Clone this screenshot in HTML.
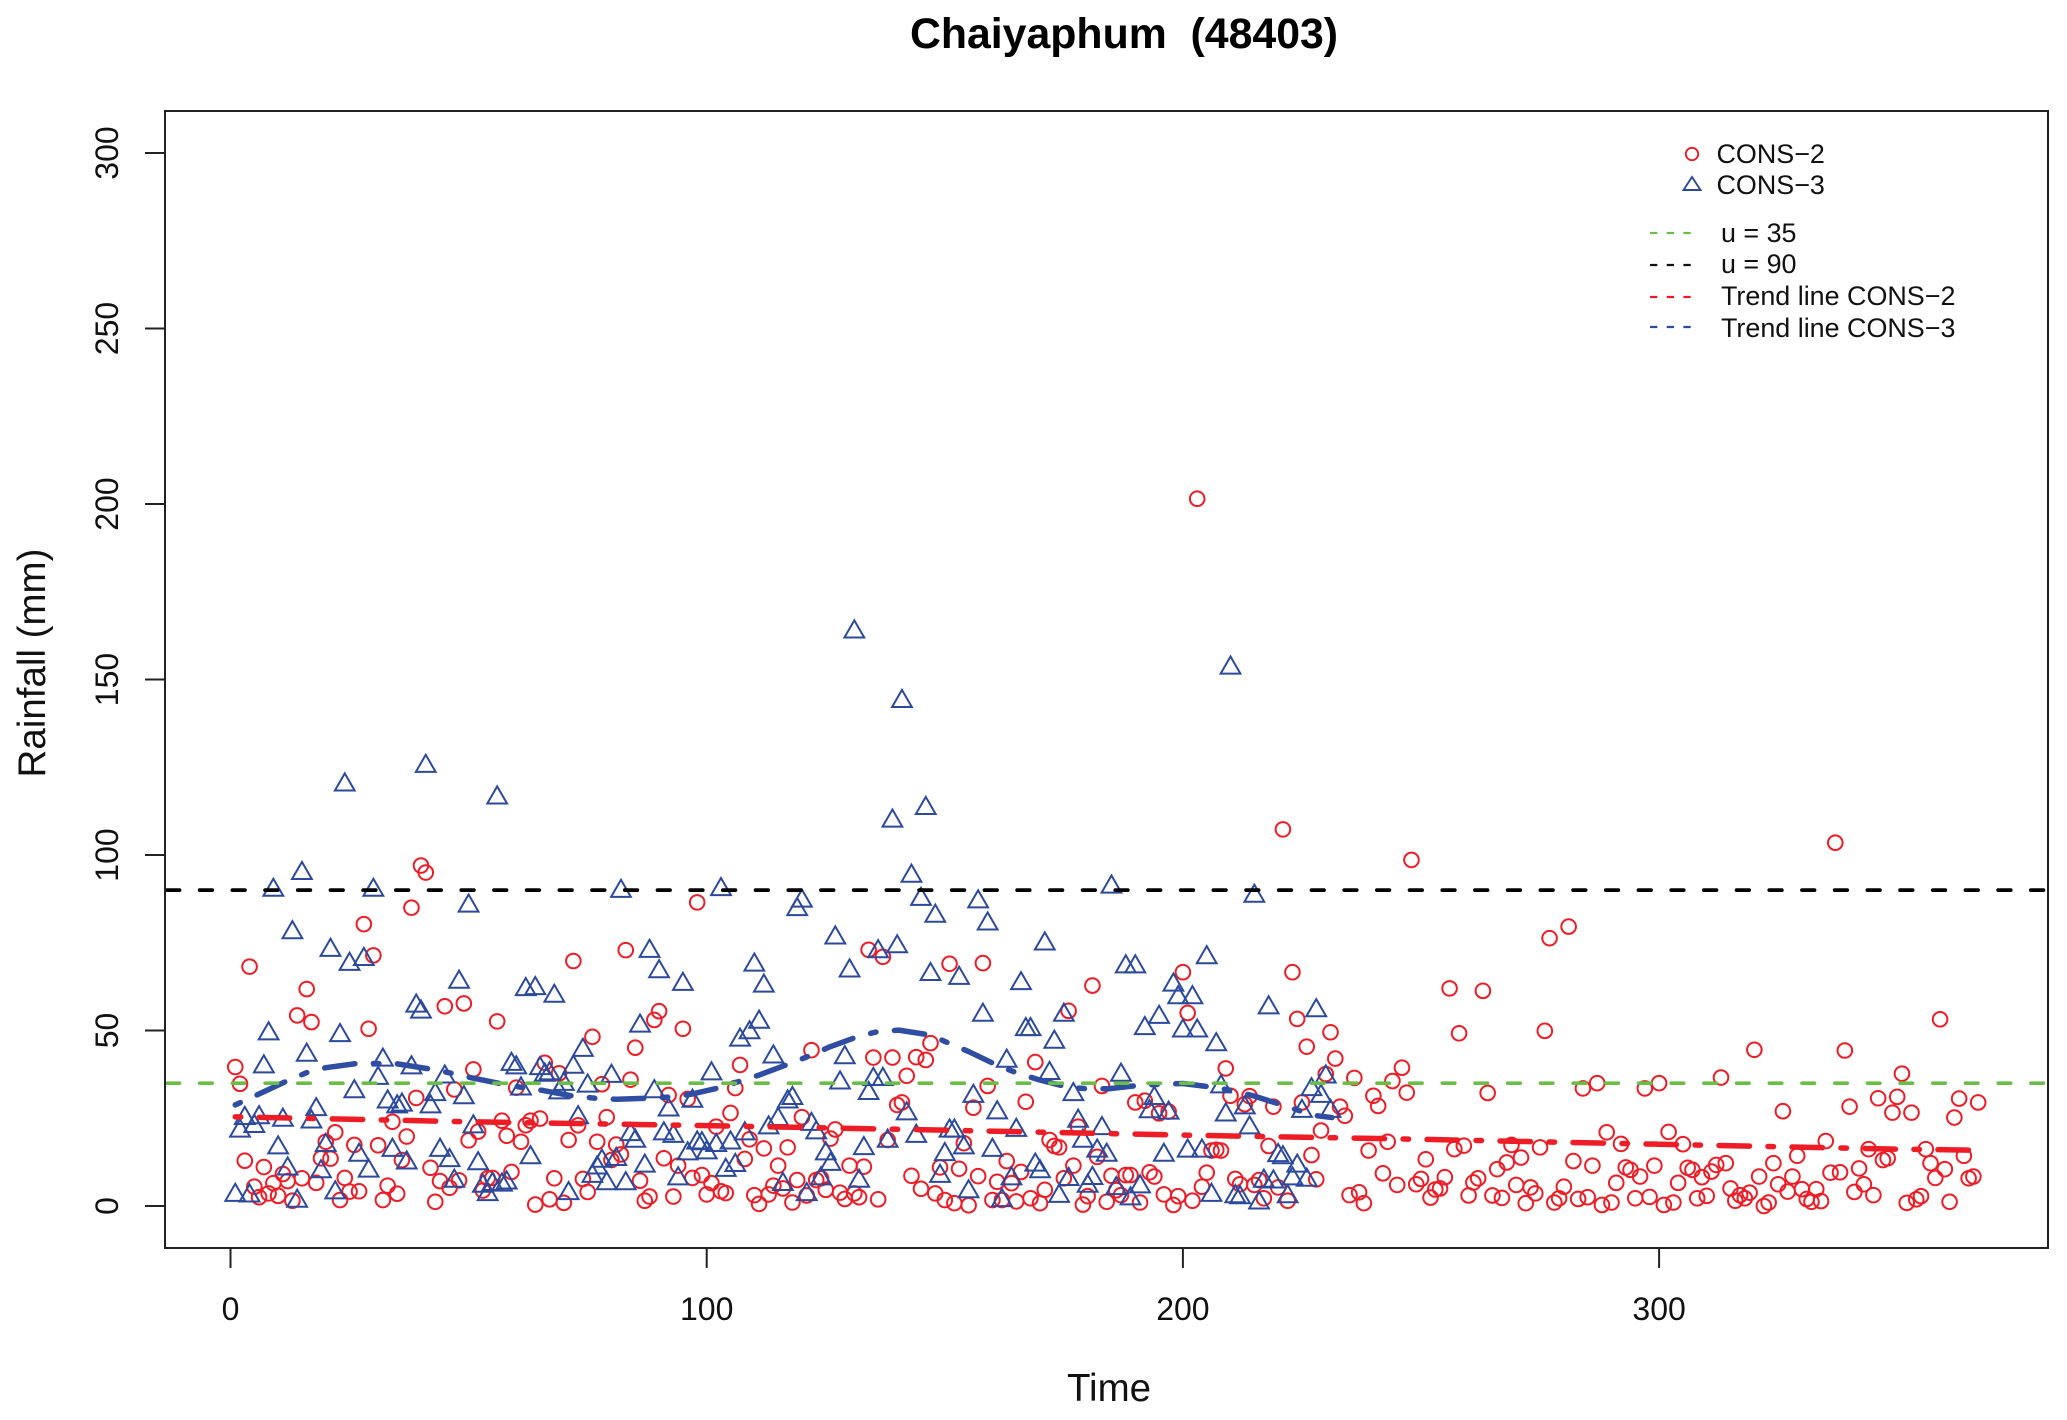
<!DOCTYPE html>
<html lang="en">
<head>
<meta charset="utf-8">
<title>Chaiyaphum (48403)</title>
<style>
html,body{margin:0;padding:0;background:#fff;}
svg{display:block;font-family:"Liberation Sans",Arial,sans-serif;}
</style>
</head>
<body>
<svg id="chart" xmlns="http://www.w3.org/2000/svg" width="2067" height="1420" viewBox="0 0 2067 1420">
  <rect x="0" y="0" width="2067" height="1420" fill="#fff"/>
  <text x="1124" y="48" font-size="42.8" font-weight="bold" text-anchor="middle" fill="#000" xml:space="preserve">Chaiyaphum  (48403)</text>
  <text x="1109" y="1401" font-size="38.5" text-anchor="middle" fill="#111">Time</text>
  <text transform="translate(45,663) rotate(-90)" font-size="38.5" text-anchor="middle" fill="#111">Rainfall (mm)</text>
  <g id="marks-circles"></g>
  <g id="marks-triangles"></g>
  <g id="trend-lines"></g>
  <g id="threshold-lines"></g>
  <g id="axes"></g>
  <g>
    <circle cx="1692" cy="154" r="6.2" fill="none" stroke="#ee1c25" stroke-width="1.9"/>
    <path d="M1692 177 L1700.5 190 L1683.5 190 Z" fill="none" stroke="#2b4a9e" stroke-width="1.9"/>
    <text x="1716.5" y="163" font-size="26.9" fill="#111">CONS−2</text>
    <text x="1716.5" y="194" font-size="26.9" fill="#111">CONS−3</text>
    <line x1="1650" y1="233" x2="1691" y2="233" stroke="#6abd45" stroke-width="2.2" stroke-dasharray="7.3 9.4"/>
    <line x1="1650" y1="265" x2="1691" y2="265" stroke="#111" stroke-width="2.2" stroke-dasharray="7.3 9.4"/>
    <line x1="1650" y1="297" x2="1691" y2="297" stroke="#ee1c25" stroke-width="2.2" stroke-dasharray="7.3 9.4"/>
    <line x1="1650" y1="327" x2="1691" y2="327" stroke="#2b4a9e" stroke-width="2.2" stroke-dasharray="7.3 9.4"/>
    <text x="1721" y="242" font-size="26.9" fill="#111">u = 35</text>
    <text x="1721" y="273" font-size="26.9" fill="#111">u = 90</text>
    <text x="1721" y="305" font-size="26.9" fill="#111">Trend line CONS−2</text>
    <text x="1721" y="337" font-size="26.9" fill="#111">Trend line CONS−3</text>
  </g>
</svg>
<script>
// Daily rainfall (mm), first value is day 1.
const cons2Values = [
39.6,34.8,12.9,68.2,5.5,2.5,11.1,3.6,6.5,2.9,9.1,7.1,1.5,54.3,7.9,61.8,52.4,6.6,13.6,18.3,
13.5,21,1.7,8,4.1,17.4,4.2,80.3,50.5,71.4,17.3,1.7,5.8,24,3.5,13.1,19.8,85,30.8,97,
95,10.9,1.2,7.1,56.9,5.2,33.2,7.3,57.7,18.7,38.9,21.2,4.4,7.9,8,52.6,24.3,20,9.7,33.7,
18.3,23,24.3,0.4,24.9,40.8,1.9,7.9,37.8,0.9,18.8,69.8,23,7.7,4,48.2,18.3,34.7,25.3,13.1,
17.5,14.7,72.9,36,45.1,7.2,1.5,2.7,53,55.5,13.6,31.6,2.7,11.5,50.5,30.5,8,86.5,8.8,3.3,
6.5,22.6,4.2,3.7,26.5,33.6,40.2,13.4,19,3.1,0.6,16.4,3.3,5.8,11.5,5,16.7,1,7.4,25.3,
3,44.4,7.4,7.9,4.6,19.2,21.8,3.8,2,11.5,3.6,2.5,11.2,73,42.3,1.9,71,18.8,42.3,28.8,
29.5,37.1,8.6,42.4,4.9,41.6,46.4,3.6,11,1.7,69,0.8,10.6,17.9,0.2,28,8.5,69.2,34.2,1.7,
6.9,1.7,12.8,6.5,1.3,9.7,29.7,2.2,41,0.8,4.6,18.8,17.1,16.7,7.9,55.6,11.5,22.6,0.4,2.8,
62.8,14,34.2,1.2,8.6,4.5,3.1,8.8,8.8,29.5,1,30,9.6,8.4,26.4,3.3,26.9,0.3,2.8,66.6,
55,1.5,201.5,5.5,9.5,15.8,16,15.8,39.2,31.4,7.7,6.2,29,31.3,6,7.4,2.2,17.1,28.3,5.3,
107.3,1.5,66.6,53.3,29.5,45.4,14.5,7.6,21.5,37.6,49.5,42,28.3,25.7,3.1,36.5,3.9,0.8,15.8,31.4,
28.5,9.3,18.3,35.6,6,39.4,32.3,98.6,6.2,7.7,13.3,2.4,4.7,5,8.2,62,16.2,49.2,17.2,3,
6.7,7.9,61.3,32.2,3,10.5,2.3,12.4,17.4,6,13.8,0.8,5.3,3.6,16.7,49.9,76.3,1,2.2,5.5,
79.6,12.8,2,33.5,2.5,11.5,35,0.3,21,1,6.6,17.7,11,10.3,2.2,8.4,33.5,2.6,11.5,35,
0.3,21.1,1,6.6,17.6,10.9,10.3,2.2,8.2,2.9,9.8,11.7,36.6,12.2,5,1.5,3.1,2.2,3.8,44.5,
8.4,0,1,12.2,6.2,27,4.1,8.4,14.3,4.8,2,1.2,4.8,1.4,18.5,9.5,103.5,9.6,44.3,28.3,
4,10.7,6.2,16.2,3.1,30.7,13.1,13.6,26.6,31.1,37.7,0.9,26.6,1.9,2.8,16.2,12.2,8,53.2,10.5,
1.2,25.2,30.6,14.3,7.9,8.4,29.5
];
const cons3Values = [
3.1,21.4,25,2.9,22.7,25.2,39.7,49.1,90,16.6,24.5,10.6,77.9,1.4,94.8,43,24,27.5,9.8,17.3,
72.9,3.8,48.6,120,68.9,32.6,14.5,70.3,10,90,36.4,41.6,29.7,15.9,28.3,28.8,12.3,39.4,57,55.3,
125.3,28.3,31.8,15.9,36.8,13,7.1,63.8,30.9,85.5,22.6,12.1,5.7,3.3,6.2,116.3,6,6.6,40.4,39.4,
33.4,61.7,13.8,62,39.2,37.3,37.7,59.8,32.3,34.7,3.6,39.6,25.2,44.4,34.2,8.5,10.9,12.8,6.4,37,
13.3,89.7,6.4,20.4,18.5,51.3,11.4,72.6,32.6,66.8,20.6,27.4,19.9,7.8,63.2,14.9,29.9,18,17.8,15.2,
37.7,17.3,90.2,10.2,18,11.6,47.3,20.6,49.4,68.7,52.4,62.7,22.3,42.5,24.7,6.2,29.7,30.7,84.5,86.9,
3.3,23.3,20.9,7.8,14.9,11.9,76.4,35.1,42.3,67,163.6,7.1,16.4,32.1,36.1,72.5,36.1,18.5,109.7,73.9,
143.8,26.3,94,19.9,87.4,113.3,66,82.6,8.5,14.7,21.4,21.4,64.9,16.6,4.1,31.3,86.7,54.4,80.4,15.9,
26.6,1.6,41.3,7.8,21.6,63.4,50.3,50.3,11.7,9.8,74.7,37.8,46.7,2.8,54.4,7.6,31.8,24.2,18.5,5.7,
7.9,15.7,22.1,14.5,90.9,5,37.3,68.2,2.1,68.2,5.5,50.6,26.9,30.7,53.8,14.5,26.5,63,59.4,49.9,
15.7,59.4,49.9,15.7,70.8,3.1,46,34,26,153.3,2.7,2.4,28,22.3,88.3,0.9,7.1,56.5,6.9,14.4,
13.8,2.7,7.8,11.4,27,7.4,33.2,55.7,31.3,36.8,27
];
const trend2Days = [1,50,100,150,200,250,300,350,367];
const trend2Values = [25.4,24,22.9,21.6,20.2,19,17.6,16.2,15.9];
const trend3Days = [1,5.5,11.5,16,20,26.5,30.7,35,42,46.5,50,57,61.5,65.7,72,76.6,81,87.8,93,96.5,103,107.7,111,117.5,122,125.6,132,136,140.3,147,151,155,161.3,165,169.4,176,180,184.4,191,196,200,206.5,211.4,215,221.5,225,227,231.3];
const trend3Values = [28.8,31.6,35.4,38,39.4,40.6,40.6,40.5,39,37.8,36.7,34.8,33.7,32.9,31.3,30.7,30.4,30.7,31.1,31.8,33.8,35.9,37.3,40.6,43,45.2,48.4,49.7,50.1,48.7,46.3,44,39.9,38,36.1,33.8,33.4,33.4,34.4,34.7,34.9,33.8,32.6,31.3,28.5,26.9,25.9,25.2];
const thresholdValues = [35,90];
const xTickLabels = [0,100,200,300];
const yTickLabels = [0,50,100,150,200,250,300];

const SVG_NS = 'http://www.w3.org/2000/svg';
const plotLeft = 165, plotRight = 2048, plotTop = 111, plotBottom = 1248;
function xScale(day){ return 230.5 + day * 4.762; }
function yScale(mm){ return 1206 - mm * 3.51; }
function make(tag, attrs){
  const el = document.createElementNS(SVG_NS, tag);
  for (const k in attrs) el.setAttribute(k, attrs[k]);
  return el;
}

const circleGroup = document.getElementById('marks-circles');
cons2Values.forEach(function(v, i){
  const el = make('circle', {cx: xScale(i + 1), cy: yScale(v), r: 7.3, fill: 'none', stroke: '#ee1c25', 'stroke-width': 2});
  
  
  circleGroup.appendChild(el);
});

const triangleGroup = document.getElementById('marks-triangles');
cons3Values.forEach(function(v, i){
  const x = xScale(i + 1), y = yScale(v), r = 11.4;
  const el = make('path', {d: 'M' + x + ' ' + (y - r) + ' L' + (x + 0.866 * r) + ' ' + (y + 0.5 * r) + ' L' + (x - 0.866 * r) + ' ' + (y + 0.5 * r) + ' Z', fill: 'none', stroke: '#2b4a9e', 'stroke-width': 2});
  
  
  triangleGroup.appendChild(el);
});

function linePoints(days, values){
  return days.map(function(d, i){ return xScale(d) + ',' + yScale(values[i]); }).join(' ');
}
const trendGroup = document.getElementById('trend-lines');
const trend2 = make('polyline', {points: linePoints(trend2Days, trend2Values), fill: 'none', stroke: '#ee1c25', 'stroke-width': 5.5, 'stroke-linecap': 'round', 'stroke-linejoin': 'round', 'stroke-dasharray': '30.5 18.5 5.5 18.5', 'stroke-dashoffset': 49});


trendGroup.appendChild(trend2);
const trend3 = make('polyline', {points: linePoints(trend3Days, trend3Values), fill: 'none', stroke: '#2f4ea3', 'stroke-width': 5.5, 'stroke-linecap': 'round', 'stroke-linejoin': 'round', 'stroke-dasharray': '30.5 18.5 5.5 18.5', 'stroke-dashoffset': 49});


trendGroup.appendChild(trend3);

const thresholdGroup = document.getElementById('threshold-lines');
const u35 = make('line', {x1: plotLeft + 2, x2: plotRight - 2, y1: yScale(thresholdValues[0]), y2: yScale(thresholdValues[0]), stroke: '#6abd45', 'stroke-width': 3.6, 'stroke-linecap': 'round', 'stroke-dasharray': '12.5 20.2'});


thresholdGroup.appendChild(u35);
const u90 = make('line', {x1: plotLeft + 2, x2: plotRight - 2, y1: yScale(thresholdValues[1]), y2: yScale(thresholdValues[1]), stroke: '#000', 'stroke-width': 3.8, 'stroke-linecap': 'round', 'stroke-dasharray': '12.5 20.2'});


thresholdGroup.appendChild(u90);

const axesGroup = document.getElementById('axes');
const frame = make('rect', {x: plotLeft, y: plotTop, width: plotRight - plotLeft, height: plotBottom - plotTop, fill: 'none', stroke: '#222', 'stroke-width': 2});


axesGroup.appendChild(frame);

xTickLabels.forEach(function(t){
  const tick = make('line', {x1: xScale(t), x2: xScale(t), y1: plotBottom, y2: plotBottom + 20, stroke: '#222', 'stroke-width': 2});
  
  
  axesGroup.appendChild(tick);
  const label = make('text', {x: xScale(t), y: 1320, 'font-size': 32, 'text-anchor': 'middle', fill: '#111'});
  label.textContent = t;
  
  
  axesGroup.appendChild(label);
});
yTickLabels.forEach(function(t){
  const tick = make('line', {x1: plotLeft - 20, x2: plotLeft, y1: yScale(t), y2: yScale(t), stroke: '#222', 'stroke-width': 2});
  
  
  axesGroup.appendChild(tick);
  const label = make('text', {transform: 'translate(118,' + yScale(t) + ') rotate(-90)', 'font-size': 32, 'text-anchor': 'middle', fill: '#111'});
  label.textContent = t;
  
  
  axesGroup.appendChild(label);
});
</script>
</body>
</html>
